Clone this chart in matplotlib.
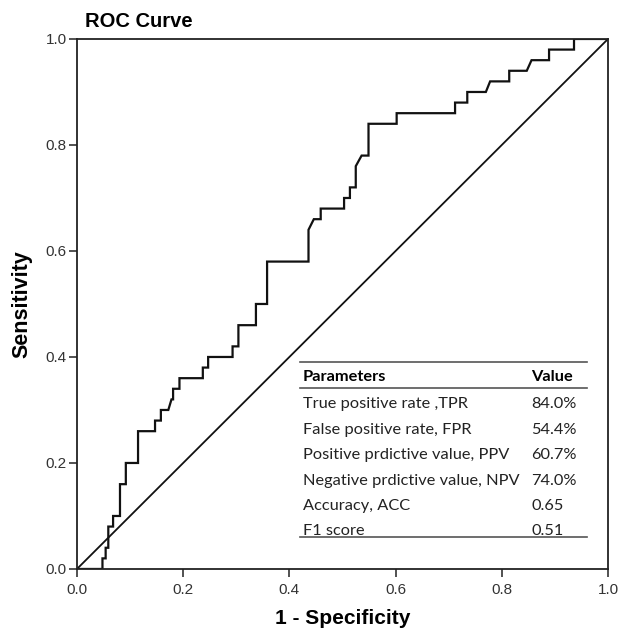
import matplotlib.pyplot as plt

# ROC curve vertices (1 - specificity, sensitivity)
fpr = [0.0, 0.048, 0.048, 0.054, 0.054, 0.059, 0.059, 0.068, 0.068, 0.081, 0.081,
       0.092, 0.092, 0.115, 0.115, 0.147, 0.147, 0.158, 0.158, 0.172, 0.178, 0.181,
       0.181, 0.193, 0.193, 0.237, 0.237, 0.247, 0.247, 0.293, 0.293, 0.304, 0.304,
       0.337, 0.337, 0.358, 0.358, 0.436, 0.436, 0.446, 0.459, 0.459, 0.503, 0.503,
       0.514, 0.514, 0.525, 0.525, 0.536, 0.549, 0.549, 0.602, 0.602, 0.712, 0.712,
       0.735, 0.735, 0.770, 0.778, 0.814, 0.814, 0.847, 0.856, 0.889, 0.889, 0.936,
       0.936, 1.0]
tpr = [0.0, 0.0, 0.02, 0.02, 0.04, 0.04, 0.08, 0.08, 0.10, 0.10, 0.16,
       0.16, 0.20, 0.20, 0.26, 0.26, 0.28, 0.28, 0.30, 0.30, 0.32, 0.32,
       0.34, 0.34, 0.36, 0.36, 0.38, 0.38, 0.40, 0.40, 0.42, 0.42, 0.46,
       0.46, 0.50, 0.50, 0.58, 0.58, 0.64, 0.66, 0.66, 0.68, 0.68, 0.70,
       0.70, 0.72, 0.72, 0.76, 0.78, 0.78, 0.84, 0.84, 0.86, 0.86, 0.88,
       0.88, 0.90, 0.90, 0.92, 0.92, 0.94, 0.94, 0.96, 0.96, 0.98, 0.98,
       1.0, 1.0]

ticks = [0.0, 0.2, 0.4, 0.6, 0.8, 1.0]
tick_labels = ['0.0', '0.2', '0.4', '0.6', '0.8', '1.0']

params = ['True positive rate ,TPR', 'False positive rate, FPR',
          'Positive prdictive value, PPV', 'Negative prdictive value, NPV',
          'Accuracy, ACC', 'F1 score']
values = ['84.0%', '54.4%', '60.7%', '74.0%', '0.65', '0.51']

plt.rcParams['font.family'] = ['Liberation Sans', 'DejaVu Sans']

fig = plt.figure(figsize=(6.33, 6.37), dpi=100)
ax = fig.add_axes([0.1216, 0.1068, 0.8389, 0.832])

ax.plot(fpr, tpr, color='#111111', lw=1.6, solid_joinstyle='miter')
ax.plot([0, 1], [0, 1], color='#111111', lw=1.3)

ax.set_xlim(0, 1)
ax.set_ylim(0, 1)
ax.set_xticks(ticks)
ax.set_xticklabels(tick_labels)
ax.set_yticks(ticks)
ax.set_yticklabels(tick_labels)
ax.tick_params(direction='out', length=6, width=1.2, labelsize=11, colors='#333333', pad=1.5)
ax.tick_params(axis='x', pad=4)
for s in ax.spines.values():
    s.set_linewidth(1.3)
    s.set_color('#222222')

ax.set_xlabel('1 - Specificity', fontsize=15, fontweight='bold', labelpad=9)
ax.set_ylabel('Sensitivity', fontsize=15.5, fontweight='bold', labelpad=9)
fig.text(0.134, 0.967, 'ROC Curve', fontsize=14.5, fontweight='bold', va='center', ha='left')

# parameter table inside the plot
tfont = ['Lato', 'DejaVu Sans']
ax.plot([0.42, 0.96], [0.391, 0.391], color='#555555', lw=1.2)
ax.plot([0.42, 0.96], [0.342, 0.342], color='#555555', lw=1.2)
ax.plot([0.42, 0.96], [0.060, 0.060], color='#555555', lw=1.2)
ax.text(0.425, 0.362, 'Parameters', family=tfont, fontsize=11.8, fontweight='bold', va='center')
ax.text(0.856, 0.362, 'Value', family=tfont, fontsize=11.8, fontweight='bold', va='center')
row_y = [0.311, 0.263, 0.215, 0.166, 0.118, 0.071]
for p, v, y in zip(params, values, row_y):
    ax.text(0.425, y, p, family=tfont, fontsize=11.8, va='center', color='#222222')
    ax.text(0.856, y, v, family=tfont, fontsize=11.8, va='center', color='#222222')

fig.savefig('out.png', dpi=100)
